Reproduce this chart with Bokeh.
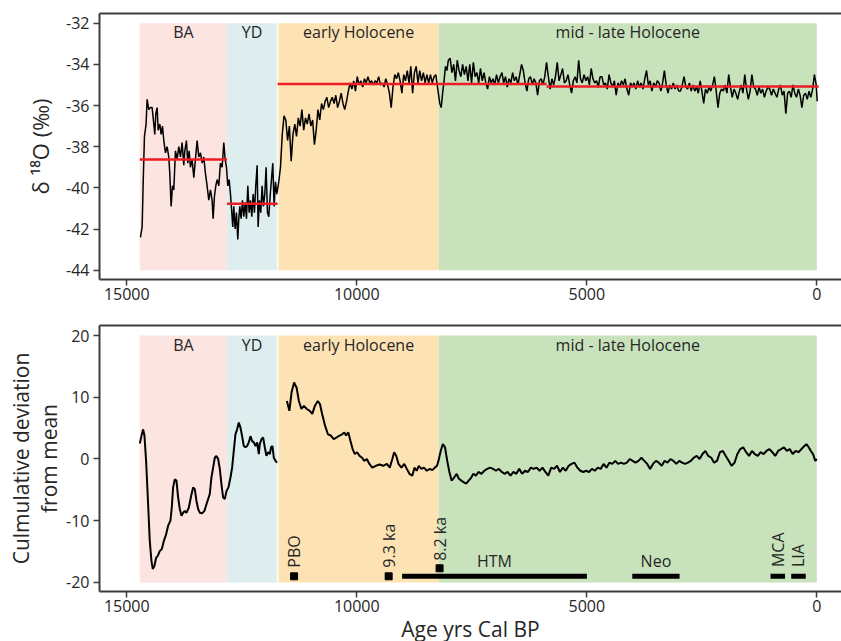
import math
from bokeh.plotting import figure
from bokeh.layouts import column
from bokeh.models import Range1d, FixedTicker, LinearAxis
from bokeh.core.properties import value
from bokeh.embed import file_html
from bokeh.resources import INLINE

FONT = "Open Sans"
AX = "#3c3c3c"
TXT = "#262626"

# ---------------- data ----------------
x_ticks = [0, 5000, 10000, 15000]
top_yticks = [-44, -42, -40, -38, -36, -34, -32]
bot_yticks = [-20, -10, 0, 10, 20]

period_names = ["BA", "YD", "early Holocene", "mid - late Holocene"]
period_start = [14717, 12820, 11705, 8217]
period_end = [12820, 11735, 8217, 0]
period_colors = ["#FCE4E1", "#DEEEEE", "#FDE3B4", "#C8E2BC"]

mean_start = [14717, 12820, 11720, 5875]
mean_end = [12820, 11720, 5875, -40]
mean_value = [-38.62, -40.77, -34.95, -35.07]

# delta 18O record, by period
d18o_age_ba = [14703, 14666, 14645, 14616, 14580, 14558, 14522, 14485, 14449, 14413,
               14391, 14369, 14340, 14318, 14282, 14253, 14224, 14195, 14159, 14123,
               14087, 14065, 14036, 14007, 13978, 13942, 13906, 13869, 13833, 13797,
               13761, 13739, 13703, 13674, 13645, 13616, 13580, 13543, 13507, 13471,
               13435, 13398, 13362, 13326, 13290, 13254, 13217, 13181, 13145, 13123,
               13094, 13065, 13036, 13000, 12964, 12927, 12891, 12862, 12833]
d18o_val_ba = [-42.4, -41.9, -39.9, -37.5, -36.9, -35.7, -36.2, -36.1, -36.1, -36.9,
               -37.4, -36.4, -36.1, -37.2, -36.9, -37.4, -37.0, -37.7, -38.3, -38.0,
               -38.5, -39.3, -40.9, -39.9, -40.1, -38.2, -38.6, -38.0, -38.5, -37.8,
               -38.9, -38.2, -37.7, -38.8, -38.2, -39.0, -38.6, -39.5, -38.6, -37.7,
               -38.5, -38.3, -38.8, -38.5, -39.3, -39.9, -40.6, -40.1, -40.6, -41.5,
               -40.4, -39.9, -39.6, -39.9, -38.8, -39.0, -37.8, -38.6, -39.0]

d18o_age_yd = [12804, 12775, 12746, 12717, 12696, 12674, 12645, 12616, 12587, 12565,
               12543, 12514, 12485, 12456, 12427, 12398, 12369, 12340, 12311, 12282,
               12253, 12225, 12196, 12166, 12145, 12116, 12087, 12058, 12029, 12000,
               11971, 11942, 11913, 11884, 11855, 11826, 11797, 11768, 11739]
d18o_val_yd = [-39.9, -39.6, -40.3, -41.2, -41.9, -40.9, -42.0, -41.2, -42.5, -41.5,
               -40.9, -41.5, -40.6, -41.4, -40.7, -41.5, -39.9, -41.2, -40.6, -41.4,
               -40.3, -41.2, -39.9, -38.9, -41.9, -40.6, -41.2, -39.9, -40.9, -40.3,
               -39.0, -41.2, -41.4, -40.4, -39.6, -38.8, -40.9, -39.7, -40.3]

d18o_age_eh = [11696, 11659,
               11620, 11581, 11543, 11504, 11465, 11426, 11387, 11348, 11310, 11271,
               11232, 11193, 11154, 11115, 11077, 11038, 10999, 10960, 10921, 10883,
               10844, 10805, 10766, 10727, 10688, 10650, 10611, 10572, 10533, 10494,
               10456, 10417, 10378, 10339, 10300, 10262, 10223, 10184, 10145, 10106,
               10067, 10029, 9990, 9951, 9912, 9873, 9834, 9796, 9757, 9718,
               9679, 9640, 9601, 9563, 9524, 9485, 9446, 9407, 9369, 9330,
               9291, 9252, 9213, 9174, 9136, 9097, 9058, 9019, 8980, 8942,
               8903, 8864, 8825, 8786, 8747, 8709, 8670, 8631, 8592, 8553,
               8515, 8476, 8437, 8398, 8359, 8321, 8282,
               8258, 8227]
d18o_val_eh = [-39.7, -39.0,
               -37.4, -36.5, -36.7, -37.7, -37.0, -38.7, -37.4, -36.9, -37.5, -36.6,
               -37.0, -36.2, -37.2, -36.6, -36.9, -36.4, -37.0, -36.7, -37.9, -37.2,
               -36.2, -36.7, -35.9, -36.2, -35.8, -35.6, -36.1, -35.8, -35.6, -35.9,
               -35.5, -36.1, -35.8, -35.4, -35.9, -36.2, -35.8, -35.3, -34.9, -35.2,
               -34.8, -35.3, -34.6, -35.0, -34.8, -35.1, -34.7, -34.9, -34.6, -34.9,
               -34.8, -35.0, -34.8, -34.9, -34.6, -35.0, -34.9, -35.1, -34.7, -35.0,
               -35.4, -36.1, -35.1, -34.5, -34.7, -34.4, -34.8, -35.4, -34.5, -34.8,
               -34.3, -34.9, -34.1, -35.4, -34.4, -34.1, -34.9, -34.3, -34.8, -34.4,
               -34.9, -34.5, -34.9, -34.5, -34.9, -34.6, -34.5,
               -34.9, -35.4]

d18o_age_mid = [8196, 8165, 8134, 8103, 8072, 8041, 8010, 7971, 7932, 7893,
                7855, 7816, 7777, 7738, 7699, 7661, 7622, 7583, 7544, 7505,
                7466, 7428, 7389, 7350, 7311, 7272, 7234, 7195, 7156, 7117,
                7078, 7039, 7001, 6962, 6923, 6884, 6845, 6807, 6768, 6729,
                6690, 6651, 6612, 6574, 6535, 6496, 6457, 6418, 6380, 6341,
                6302, 6263, 6224, 6185, 6147, 6108, 6069, 6030, 5991, 5953,
                5914]
d18o_val_mid = [-35.9, -36.1, -35.4, -34.8, -34.1, -34.3, -33.8, -33.7, -34.4, -34.0,
                -34.8, -33.8, -34.3, -34.6, -34.0, -34.5, -34.1, -34.8, -34.0, -34.9,
                -33.9, -34.6, -34.4, -34.9, -34.2, -34.8, -34.4, -34.9, -35.2, -34.6,
                -34.9, -34.7, -35.0, -34.5, -34.9, -34.6, -34.4, -34.9, -34.6, -35.1,
                -34.7, -34.9, -34.4, -34.8, -34.6, -35.0, -34.5, -34.0, -34.3, -34.9,
                -35.3, -34.7, -34.6, -35.0, -34.7, -34.9, -35.5, -34.8, -34.7, -35.0,
                -34.6]

d18o_age_late = [5875, 5836, 5797, 5758, 5720, 5681, 5642, 5603, 5564, 5526,
                 5487, 5448, 5409, 5370, 5331, 5293, 5254, 5215, 5176, 5137,
                 5099, 5060, 5021, 4982, 4943, 4904, 4866, 4827, 4788, 4749,
                 4710, 4671, 4633, 4594, 4555, 4516, 4477, 4439, 4400, 4361,
                 4322, 4283, 4244, 4206, 4167, 4128, 4089, 4050, 4012, 3973,
                 3934, 3895, 3856, 3817, 3779, 3740, 3701, 3662, 3623, 3585,
                 3546, 3507, 3468, 3429, 3390, 3352, 3313, 3274, 3235, 3196,
                 3158, 3119, 3080, 3041, 3002, 2963, 2925, 2886, 2847, 2808,
                 2769, 2731, 2692, 2653, 2614, 2575, 2536, 2498, 2459, 2420,
                 2381, 2342, 2304, 2265, 2226, 2187, 2148, 2109, 2071, 2032,
                 1993, 1954, 1915, 1877, 1838, 1799, 1760, 1721, 1682, 1644,
                 1605, 1566, 1527, 1488, 1450, 1411, 1372, 1333, 1294, 1255,
                 1217, 1178, 1139, 1100, 1061, 1023, 984, 945, 906, 867,
                 828, 790, 751, 712, 673, 634, 596, 557, 518, 479,
                 440, 401, 363, 324, 285, 246, 207, 169, 130, 91,
                 52, 13, -10]
d18o_val_late = [-33.9, -34.6, -35.2, -34.7, -35.0, -34.6, -33.9, -34.8, -34.5, -34.2,
                 -34.9, -34.8, -34.5, -35.0, -35.4, -34.8, -34.6, -34.9, -33.8, -34.7,
                 -34.9, -34.5, -34.8, -34.6, -35.0, -34.2, -34.7, -34.9, -34.8, -35.1,
                 -34.6, -34.6, -35.0, -34.9, -35.2, -34.5, -34.9, -35.1, -34.8, -35.5,
                 -34.9, -35.1, -34.8, -35.0, -34.7, -35.2, -35.5, -34.9, -35.1, -34.9,
                 -35.2, -34.8, -35.1, -34.9, -35.2, -34.7, -34.3, -35.0, -34.8, -35.3,
                 -34.9, -35.1, -34.8, -34.9, -35.3, -34.9, -34.3, -35.0, -35.4, -35.0,
                 -35.2, -34.9, -35.2, -35.0, -35.3, -35.3, -35.0, -34.6, -35.1, -35.2,
                 -34.9, -35.3, -35.0, -35.3, -35.1, -35.4, -34.8, -35.3, -35.9, -35.2,
                 -35.4, -35.1, -35.3, -35.0, -34.6, -35.3, -36.1, -35.4, -35.2, -35.3,
                 -35.0, -35.4, -34.5, -35.1, -35.6, -35.2, -35.4, -35.7, -35.3, -35.0,
                 -35.4, -34.5, -35.2, -35.7, -35.3, -34.5, -35.1, -35.2, -35.5, -35.1,
                 -35.4, -35.2, -35.6, -35.3, -35.1, -35.2, -35.5, -35.2, -35.4, -35.6,
                 -35.2, -35.0, -35.5, -35.3, -36.4, -35.4, -35.3, -35.6, -35.0, -35.4,
                 -35.6, -35.2, -35.5, -36.1, -35.5, -35.4, -35.7, -35.3, -35.6, -35.2,
                 -34.5, -35.0, -35.8]

# cumulative deviation from mean, by section
cdev_age_glacial = [14717, 14688, 14645, 14616, 14580, 14543, 14500, 14464, 14435, 14398,
                    14362, 14326, 14282, 14239, 14195, 14145, 14101, 14051, 14022, 13993,
                    13956, 13920, 13884, 13848, 13811, 13775, 13739, 13703, 13652, 13601,
                    13558, 13522, 13485, 13449, 13413, 13362, 13312, 13254, 13196, 13160,
                    13123, 13087, 13051, 13014, 12978, 12942, 12906, 12869, 12833, 12790,
                    12746, 12710, 12674, 12638, 12601, 12565, 12529, 12493, 12456, 12420,
                    12384, 12348, 12311, 12275, 12239, 12203, 12166, 12130, 12109, 12072,
                    12036, 12000, 11964, 11927, 11891, 11862, 11833, 11804, 11768, 11732]
cdev_val_glacial = [2.5, 3.5, 4.8, 3.8, -0.3, -6.2, -13.3, -16.5, -17.8, -17.3,
                    -16.0, -15.7, -14.9, -14.6, -13.3, -12.2, -10.8, -10.0, -7.9, -4.6,
                    -3.3, -3.5, -6.2, -8.1, -9.2, -8.7, -8.4, -8.7, -7.9, -6.0,
                    -4.6, -4.9, -6.8, -8.1, -8.7, -8.8, -8.4, -7.0, -5.7, -3.0,
                    -1.4, 0.2, 0.5, 0.0, -1.6, -4.1, -6.2, -6.5, -5.2, -4.6,
                    -3.0, -1.4, 1.3, 4.0, 4.8, 5.9, 5.1, 3.7, 2.1, 1.9,
                    2.1, 2.7, 3.7, 2.9, 2.7, 2.1, 2.7, 0.8, 2.4, 3.2,
                    3.5, 1.9, 0.5, 1.1, 0.8, 1.9, 2.1, 0.2, -0.3, -0.6]

cdev_age_early = [11520, 11465, 11418, 11362, 11307, 11259, 11204, 11149, 11086, 11022,
                  10967, 10912, 10848, 10801, 10753, 10690, 10627, 10564, 10501, 10437,
                  10374, 10319, 10271, 10232, 10184, 10137, 10090, 10042, 9995, 9939,
                  9884, 9837, 9781, 9726, 9663, 9584, 9505, 9425, 9346, 9283,
                  9228, 9188, 9141, 9093, 9030, 8967, 8912, 8856, 8793, 8746,
                  8698, 8651, 8595, 8540, 8477, 8414, 8358, 8303, 8255, 8224]
cdev_val_early = [9.4, 7.8, 10.8, 12.4, 11.5, 9.4, 8.1, 8.6, 8.1, 7.8,
                  7.3, 8.6, 9.4, 8.9, 7.3, 5.4, 4.0, 3.8, 3.2, 3.5,
                  3.8, 4.0, 4.3, 3.8, 4.3, 2.9, 1.6, 0.8, 1.1, 0.5,
                  0.2, -0.3, 0.0, -0.8, -1.4, -1.1, -0.9, -1.1, -0.8, -1.4,
                  0.0, 1.1, 0.5, -0.8, -1.4, -0.8, -1.6, -2.4, -2.7, -1.4,
                  -1.9, -1.1, -1.6, -1.4, -1.9, -1.6, -1.8, -1.4, -1.1, -0.3]

cdev_age_late = [8176, 8129, 8082, 8034, 7987, 7939, 7884, 7829, 7781, 7726,
                 7671, 7623, 7568, 7512, 7465, 7410, 7354, 7291, 7228, 7165,
                 7101, 7038, 6975, 6912, 6848, 6785, 6722, 6659, 6595, 6532,
                 6469, 6406, 6342, 6279, 6216, 6153, 6090, 6026, 5963, 5900,
                 5837, 5773, 5710, 5647, 5584, 5520, 5457, 5394, 5331, 5267,
                 5204, 5141, 5078, 5014, 4951, 4888, 4825, 4761, 4698, 4635,
                 4572, 4509, 4445, 4382, 4319, 4256, 4192, 4129, 4066, 4003,
                 3940, 3876, 3813, 3750, 3687, 3623, 3560, 3497, 3434, 3370,
                 3307, 3244, 3181, 3117, 3054, 2991, 2928, 2864, 2801, 2738,
                 2675, 2612, 2548, 2485, 2422, 2359, 2295, 2232, 2169, 2106,
                 2042, 1979, 1916, 1853, 1789, 1726, 1663, 1600, 1536, 1473,
                 1410, 1347, 1283, 1220, 1157, 1094, 1030, 967, 904, 841,
                 777, 714, 651, 588, 524, 461, 398, 335, 271, 224,
                 176, 129, 82, 34, 0]
cdev_val_late = [1.3, 2.4, 1.9, -0.3, -2.1, -3.5, -3.0, -2.4, -3.2, -3.5,
                 -3.8, -4.0, -3.5, -3.0, -2.4, -2.7, -2.1, -2.4, -1.9, -1.6,
                 -1.4, -1.6, -1.9, -1.6, -2.1, -2.4, -2.1, -2.7, -2.1, -2.4,
                 -1.6, -2.4, -1.9, -2.1, -1.4, -1.6, -1.4, -1.9, -1.4, -2.1,
                 -2.7, -1.4, -1.6, -1.1, -2.1, -1.4, -1.9, -1.1, -0.8, -0.6,
                 -1.4, -1.9, -2.1, -1.9, -2.1, -1.6, -1.9, -1.4, -1.6, -0.8,
                 -1.4, -0.6, -0.8, -0.3, -0.8, -0.6, -0.8, -0.6, 0.0, -0.3,
                 -0.6, -0.3, 0.2, -0.3, -0.8, -1.6, -0.8, -0.3, -0.6, -1.1,
                 -0.3, -0.6, 0.0, -0.3, -0.8, -0.3, -0.6, -0.8, -0.6, -0.3,
                 0.2, 0.5, 0.0, 0.8, 1.3, 0.5, 0.2, -0.6, -0.3, 1.1,
                 1.3, 0.5, -0.3, -1.1, -0.6, 0.8, 1.6, 1.9, 1.1, 0.5,
                 1.3, 0.8, 0.5, 1.1, 0.8, 1.3, 1.6, 1.1, 0.5, 1.3,
                 1.6, 1.9, 1.3, 1.6, 0.8, 1.3, 1.1, 1.6, 2.1, 2.4,
                 1.9, 1.3, 0.8, -0.3, 0.0]

point_events = ["PBO", "9.3 ka", "8.2 ka"]
point_age = [11363, 9307, 8200]
interval_events = ["HTM", "Neo", "MCA", "LIA"]
interval_start = [9015, 4011, 1006, 556]
interval_end = [4998, 2983, 690, 240]

# ---------------- drawing ----------------
X_LEFT, X_RIGHT = 15593, -537


def make_fig(y0, y1, yticks, border_top, border_bottom):
    p = figure(output_backend="svg", toolbar_location=None,
               frame_width=742, frame_height=266,
               min_border_left=99, min_border_right=0,
               min_border_top=border_top, min_border_bottom=border_bottom,
               x_range=Range1d(X_LEFT, X_RIGHT), y_range=Range1d(y0, y1))
    p.outline_line_color = None
    p.xgrid.visible = False
    p.ygrid.visible = False
    p.background_fill_color = "white"
    p.border_fill_color = "white"
    xb = p.below[0]
    yl = p.left[0]
    xb.ticker = FixedTicker(ticks=x_ticks)
    yl.ticker = FixedTicker(ticks=yticks)
    yl.major_label_overrides = {t: str(t) for t in yticks}
    for ax in (xb, yl):
        ax.axis_line_color = AX
        ax.axis_line_width = 2
        ax.major_tick_line_color = AX
        ax.major_tick_line_width = 1.5
        ax.major_tick_out = 6
        ax.major_tick_in = 0
        ax.minor_tick_line_color = None
        ax.major_label_text_font = FONT
        ax.major_label_text_font_size = "16px"
        ax.major_label_text_color = TXT
        ax.axis_label_text_font = FONT
        ax.axis_label_text_font_style = "normal"
        ax.axis_label_text_color = TXT
    xb.major_label_standoff = 2
    yl.major_label_standoff = 4
    top = LinearAxis(ticker=FixedTicker(ticks=[]), axis_line_color=AX, axis_line_width=2,
                     major_tick_line_color=None, minor_tick_line_color=None,
                     major_tick_out=0, major_tick_in=0,
                     major_label_text_font_size="0px", major_label_standoff=0)
    p.add_layout(top, "above")
    return p, xb, yl


def shade(p, ybot, ytop, ylab):
    p.quad(left=period_start, right=period_end, bottom=ybot, top=ytop,
           fill_color=period_colors, line_color=None)
    centers = [(s + e) / 2 for s, e in zip(period_start, period_end)]
    p.text(x=centers, y=[ylab] * len(centers), text=period_names,
           text_font=value(FONT), text_font_size="16px", text_color=TXT,
           text_align="center", text_baseline="middle")


# top panel
p1, xb1, yl1 = make_fig(-44.45, -31.53, top_yticks, 13, 40)
yl1.axis_label = "δ ¹⁸O (‰)"
yl1.axis_label_text_font_size = "22px"
yl1.axis_label_standoff = 8
shade(p1, -44, -32, -32.45)
d18o_age = d18o_age_ba + d18o_age_yd + d18o_age_eh + d18o_age_mid + d18o_age_late
d18o_val = d18o_val_ba + d18o_val_yd + d18o_val_eh + d18o_val_mid + d18o_val_late
p1.line(d18o_age, d18o_val, line_color="black", line_width=1.5)
p1.segment(x0=mean_start, y0=mean_value, x1=mean_end, y1=mean_value,
           line_color="#EE1C25", line_width=2.5)

# bottom panel
p2, xb2, yl2 = make_fig(-21.46, 21.62, bot_yticks, 6, 50)
yl2.axis_label = "Culmulative deviation\nfrom mean"
yl2.axis_label_text_font_size = "21px"
yl2.axis_label_text_line_height = 1.0
yl2.axis_label_standoff = 0
xb2.axis_label = "Age yrs Cal BP"
xb2.axis_label_text_font_size = "21px"
xb2.axis_label_standoff = 0
shade(p2, -20, 20, 18.5)
cdev_age = cdev_age_glacial + [float("nan")] + cdev_age_early + cdev_age_late
cdev_val = cdev_val_glacial + [float("nan")] + cdev_val_early + cdev_val_late
p2.line(cdev_age, cdev_val, line_color="black", line_width=2)

p2.segment(x0=interval_start, x1=interval_end, y0=[-19.0] * 4, y1=[-19.0] * 4,
           line_color="black", line_width=5, line_cap="butt")
p2.scatter(x=point_age, y=[-19.0, -19.0, -17.7], marker="square", size=7,
           fill_color="black", line_color="black")
p2.text(x=point_age, y=[-17.6, -17.6, -16.5], text=point_events, angle=math.pi / 2,
        text_font=value(FONT), text_font_size="16px", text_color=TXT,
        text_align="left", text_baseline="middle")
int_mid = [(s + e) / 2 for s, e in zip(interval_start, interval_end)]
p2.text(x=int_mid[:2], y=[-16.5, -16.5], text=interval_events[:2],
        text_font=value(FONT), text_font_size="16px", text_color=TXT,
        text_align="center", text_baseline="middle")
p2.text(x=int_mid[2:], y=[-17.5, -17.5], text=interval_events[2:], angle=math.pi / 2,
        text_font=value(FONT), text_font_size="16px", text_color=TXT,
        text_align="left", text_baseline="middle")

layout = column(p1, p2, spacing=0)
open("out.html", "w").write(file_html(layout, INLINE))
